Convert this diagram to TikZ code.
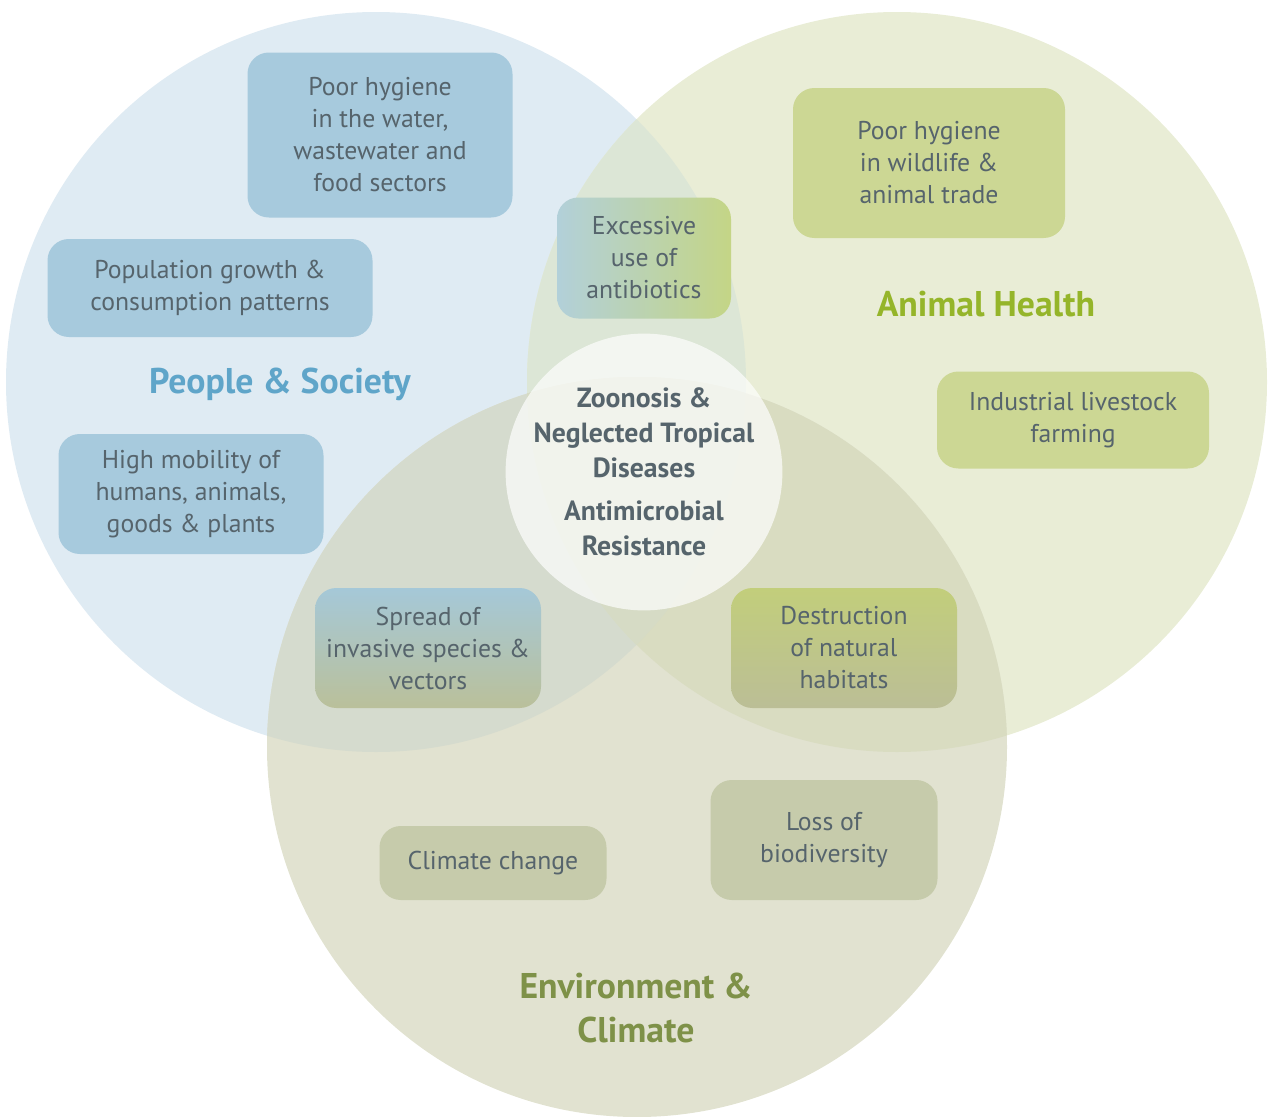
\documentclass[tikz,border=0pt]{standalone}
\usepackage{fontspec}
\setmainfont{PT Sans}
\definecolor{cBlue}{HTML}{DFEBF3}
\definecolor{cGreen}{HTML}{E9EDD6}
\definecolor{cEnv}{HTML}{E1E2D0}
\definecolor{cBG}{HTML}{DCE6D6}
\definecolor{cBE}{HTML}{D5DBCE}
\definecolor{cGE}{HTML}{D9DCC1}
\definecolor{cBGE}{HTML}{D6DBC5}
\definecolor{bxBlue}{HTML}{A7CADD}
\definecolor{bxGreen}{HTML}{CCD794}
\definecolor{bxEnv}{HTML}{C6CBAB}
\definecolor{gBlue}{HTML}{B2D0D9}
\definecolor{gGreen}{HTML}{C4D586}
\definecolor{gBlueT}{HTML}{A5C8D8}
\definecolor{gEnvB}{HTML}{BAC09A}
\definecolor{gGreenT}{HTML}{C2CE7B}
\definecolor{gEnvB2}{HTML}{BBBE96}
\definecolor{txt}{HTML}{56646C}
\definecolor{tBlue}{HTML}{5FA5C9}
\definecolor{tGreen}{HTML}{95B52A}
\definecolor{tEnv}{HTML}{7E9148}
\begin{document}
\begin{tikzpicture}[x=0.75pt,y=-0.75pt,
  box/.style={rounded corners=16pt, inner xsep=0pt, inner ysep=0pt, align=center, text=txt,
    font={\fontsize{19.3}{24}\selectfont}},
  blbox/.style={box, fill=bxBlue},
  grbox/.style={box, fill=bxGreen},
  envbox/.style={box, fill=bxEnv},
  title/.style={align=center, font={\fontsize{26.8}{33}\selectfont\bfseries}},
  core/.style={circle, fill=white, fill opacity=0.68, text opacity=1, text=txt,
    minimum size=204pt, inner sep=0pt, align=center,
    font={\fontsize{20.8}{26.25}\selectfont\bfseries}}
]
\useasboundingbox (0,0) rectangle (1271,1117);
\coordinate (cb) at (376,382);
\coordinate (cg) at (897,382);
\coordinate (ce) at (637,747);
\def\R{277.5pt}
% base circles
\fill[cBlue] (cb) circle[radius=\R];
\fill[cGreen] (cg) circle[radius=\R];
\fill[cEnv] (ce) circle[radius=\R];
% overlaps
\begin{scope}\clip (cb) circle[radius=\R]; \fill[cBG] (cg) circle[radius=\R];\end{scope}
\begin{scope}\clip (cb) circle[radius=\R]; \fill[cBE] (ce) circle[radius=\R];\end{scope}
\begin{scope}\clip (cg) circle[radius=\R]; \fill[cGE] (ce) circle[radius=\R];\end{scope}
\begin{scope}\clip (cb) circle[radius=\R]; \clip (cg) circle[radius=\R]; \fill[cBGE] (ce) circle[radius=\R];\end{scope}

% boxes
\node[blbox, minimum width=198.75pt, minimum height=123.75pt] (hygW) at (380,135)
  {Poor hygiene\\in the water,\\wastewater and\\food sectors};
\node[blbox, minimum width=243.75pt, minimum height=73.5pt] (pop) at (210,288)
  {Population growth \&\\consumption patterns};
\node[blbox, minimum width=198.75pt, minimum height=90pt] (mob) at (191,494)
  {High mobility of\\humans, animals,\\goods \& plants};
\node[box, left color=gBlue, right color=gGreen, minimum width=130.5pt, minimum height=90.75pt] (anti) at (644,258)
  {Excessive\\use of\\antibiotics};
\node[grbox, minimum width=204pt, minimum height=112.5pt] (hygA) at (929,163)
  {Poor hygiene\\in wildlife \&\\animal trade};
\node[grbox, minimum width=204pt, minimum height=72.75pt] (ind) at (1073,420)
  {Industrial livestock\\farming};
\node[box, top color=gBlueT, bottom color=gEnvB, minimum width=169.5pt, minimum height=90pt] (inv) at (428,648)
  {Spread of\\invasive species \&\\vectors};
\node[box, top color=gGreenT, bottom color=gEnvB2, minimum width=169.5pt, minimum height=90pt] (hab) at (844,648)
  {Destruction\\of natural\\habitats};
\node[envbox, minimum width=170.25pt, minimum height=55.5pt] (clim) at (493,863)
  {Climate change};
\node[envbox, minimum width=170.25pt, minimum height=90pt] (bio) at (824,840)
  {Loss of\\biodiversity};

% titles
\node[title, text=tBlue] (tPS) at (280,384) {People \& Society};
\node[title, text=tGreen] (tAH) at (986,304) {Animal Health};
\node[title, text=tEnv] (tEC) at (636,1008) {Environment \&\\Climate};

% core
\node[core] (core) at (644,472)
  {Zoonosis \&\\Neglected Tropical\\Diseases\\[6pt]Antimicrobial\\Resistance};
\end{tikzpicture}
\end{document}
